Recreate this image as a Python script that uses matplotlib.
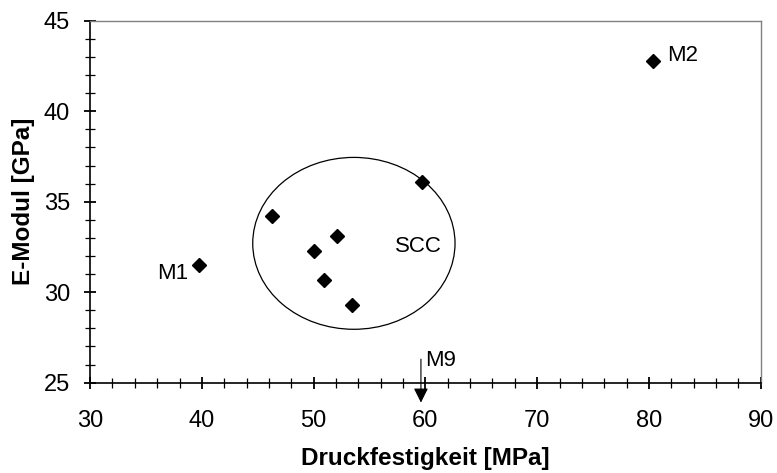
# E-Modul über Druckfestigkeit, SCC-Mischungen eingekreist
import matplotlib.pyplot as plt
from matplotlib.patches import Ellipse
from matplotlib.ticker import MultipleLocator

plt.rcParams['font.family'] = ['Liberation Sans', 'DejaVu Sans']

# Messwerte
druck = [39.7, 46.3, 50.0, 52.1, 50.9, 53.4, 59.7, 80.4]
emodul = [31.5, 34.2, 32.3, 33.1, 30.7, 29.3, 36.1, 42.8]

# M9 liegt unterhalb der Achse -> nur Pfeil
m9_druck = 59.6

fig, ax = plt.subplots(figsize=(7.77, 4.73), dpi=100)
fig.subplots_adjust(left=0.116, right=0.979, top=0.956, bottom=0.191)

ax.plot(druck, emodul, 'D', color='black', markersize=7)

# Ellipse um die SCC-Punkte
ell = Ellipse((53.6, 32.7), width=18.1, height=9.5, fill=False,
              edgecolor='black', linewidth=0.9)
ax.add_patch(ell)

ax.text(38.75, 31.05, 'M1', fontsize=16, ha='right', va='center')
ax.text(81.6, 43.1, 'M2', fontsize=16, ha='left', va='center')
ax.text(59.4, 32.5, 'SCC', fontsize=16, ha='center', va='center')
ax.text(59.95, 26.2, 'M9', fontsize=16, ha='left', va='center')

ax.annotate('', xy=(m9_druck, 23.9), xytext=(m9_druck, 26.3),
            arrowprops=dict(arrowstyle='-|>', color='black', lw=0.8,
                            mutation_scale=22, shrinkA=0, shrinkB=0),
            annotation_clip=False)

ax.set_xlim(30, 90)
ax.set_ylim(25, 45)
ax.xaxis.set_major_locator(MultipleLocator(10))
ax.xaxis.set_minor_locator(MultipleLocator(2))
ax.yaxis.set_major_locator(MultipleLocator(5))
ax.yaxis.set_minor_locator(MultipleLocator(1))

ax.tick_params(which='both', direction='inout', top=False, right=False,
               labelsize=17, colors='black')
ax.tick_params(which='major', length=9, width=1.3)
ax.tick_params(which='minor', length=7, width=0.9)
ax.tick_params(axis='x', which='major', pad=15)
ax.tick_params(axis='y', which='major', pad=10)

for side in ('left', 'bottom'):
    ax.spines[side].set_linewidth(1.2)
for side in ('top', 'right'):
    ax.spines[side].set_color('#808080')
    ax.spines[side].set_linewidth(1.0)

ax.set_xlabel('Druckfestigkeit [MPa]', fontsize=17.5, fontweight='bold', labelpad=11)
ax.set_ylabel('E-Modul [GPa]', fontsize=17.5, fontweight='bold', labelpad=6)

plt.savefig('out.png', dpi=100)
